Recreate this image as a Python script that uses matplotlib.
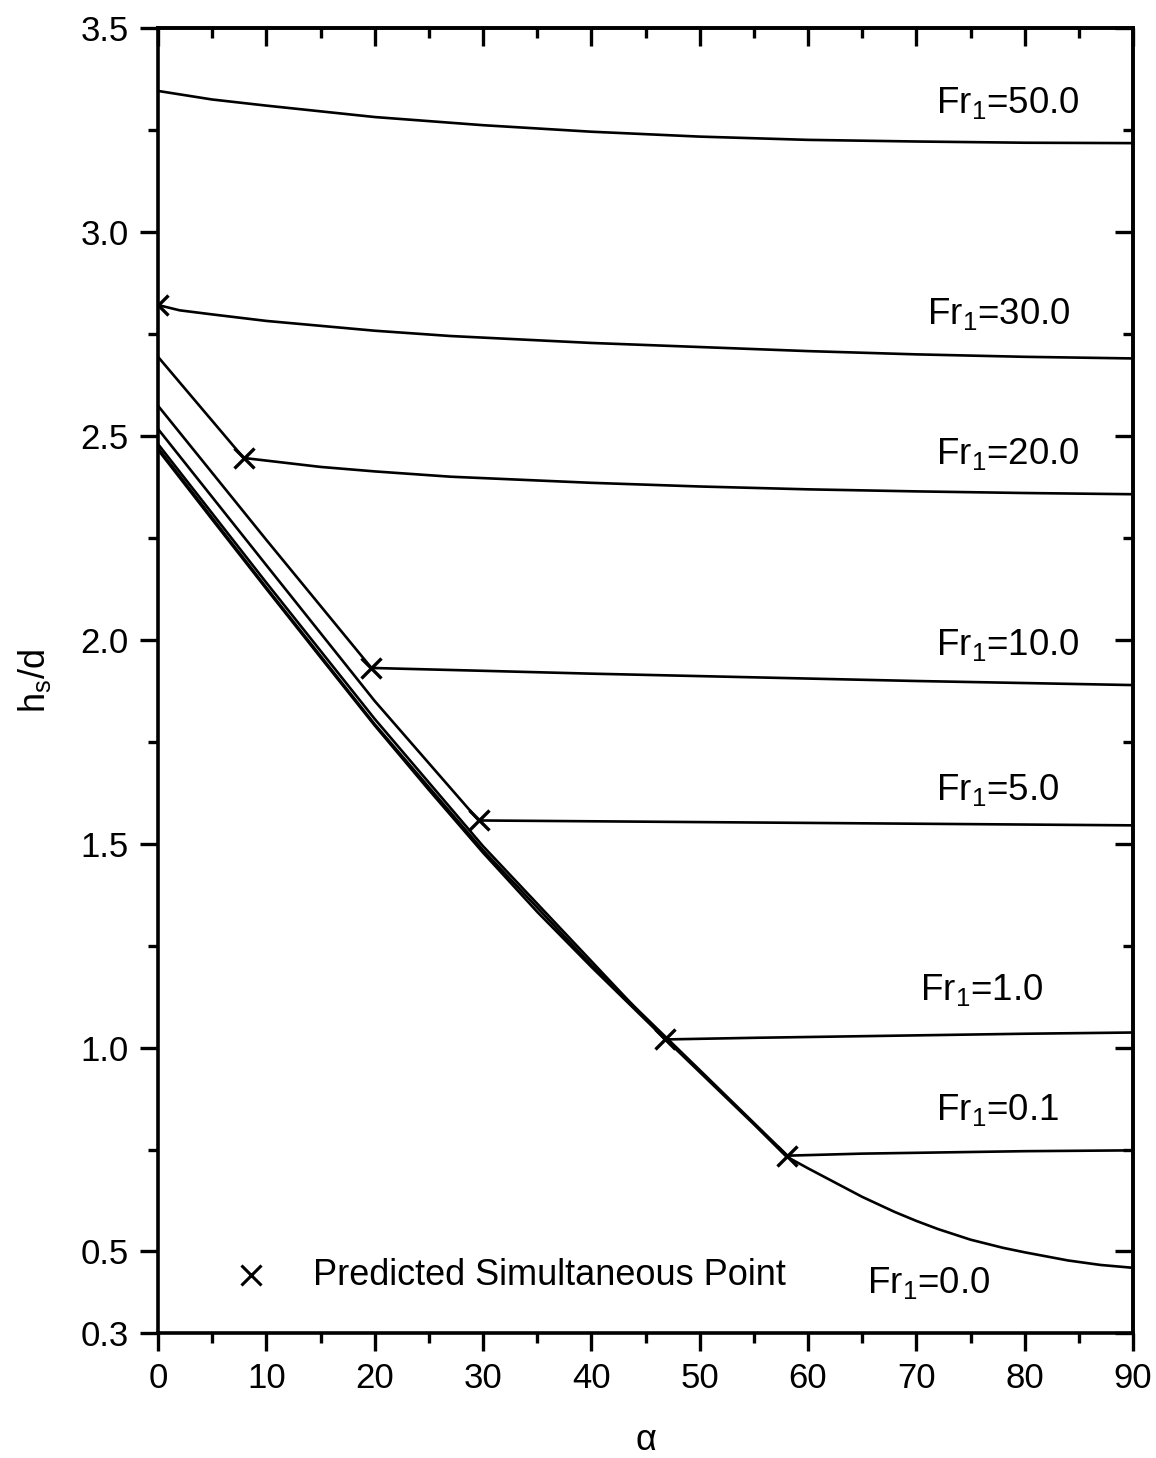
import matplotlib
matplotlib.use("Agg")
import matplotlib.pyplot as plt
from matplotlib.ticker import MultipleLocator, FixedLocator

plt.rcParams['font.family'] = ['Liberation Sans', 'DejaVu Sans']
plt.rcParams['mathtext.fontset'] = 'custom'
plt.rcParams['mathtext.rm'] = 'Liberation Sans'
plt.rcParams['mathtext.it'] = 'Liberation Sans:italic'

# Fr1 = 0.0 : single curve over the whole range
alpha_fr0 = [0, 5, 10, 15, 20, 25, 30, 35, 40, 45, 50, 55, 58, 60, 62, 65, 68, 70, 72, 75, 78, 80, 84, 87, 90]
h_fr0 = [2.466, 2.295, 2.125, 1.957, 1.790, 1.632, 1.478, 1.333, 1.198, 1.068, 0.940, 0.812, 0.733,
         0.704, 0.676, 0.634, 0.597, 0.575, 0.555, 0.529, 0.509, 0.498, 0.478, 0.467, 0.460]

# descending branch (alpha, h) and near-flat branch for each Froude number
desc_alpha = {
    "0.1": [0, 10, 20, 30, 40, 50, 58.1],
    "1.0": [0, 10, 20, 30, 40, 46.8],
    "5.0": [0, 10, 20, 29.6],
    "10.0": [0, 10, 19.7],
    "20.0": [0, 7.9],
}
desc_h = {
    "0.1": [2.470, 2.128, 1.793, 1.484, 1.203, 0.945, 0.735],
    "1.0": [2.480, 2.140, 1.806, 1.494, 1.212, 1.020],
    "5.0": [2.517, 2.183, 1.850, 1.557],
    "10.0": [2.574, 2.245, 1.931],
    "20.0": [2.694, 2.446],
}
flat_alpha = {
    "0.1": [58.1, 65, 70, 80, 90],
    "1.0": [46.8, 55, 60, 70, 80, 90],
    "5.0": [29.6, 40, 50, 60, 70, 80, 90],
    "10.0": [19.7, 30, 40, 50, 60, 70, 80, 90],
    "20.0": [7.9, 15, 20, 27, 40, 50, 60, 70, 80, 90],
    "30.0": [0, 2, 5, 10, 20, 27, 40, 50, 60, 70, 80, 90],
    "50.0": [0, 5, 10, 15, 20, 30, 40, 50, 60, 70, 80, 90],
}
flat_h = {
    "0.1": [0.735, 0.740, 0.742, 0.746, 0.748],
    "1.0": [1.020, 1.024, 1.026, 1.030, 1.034, 1.037],
    "5.0": [1.557, 1.555, 1.553, 1.551, 1.549, 1.547, 1.545],
    "10.0": [1.931, 1.924, 1.917, 1.911, 1.905, 1.899, 1.894, 1.889],
    "20.0": [2.446, 2.424, 2.413, 2.400, 2.385, 2.376, 2.369, 2.364, 2.360, 2.357],
    "30.0": [2.821, 2.808, 2.798, 2.782, 2.758, 2.745, 2.728, 2.718, 2.708, 2.700, 2.694, 2.690],
    "50.0": [3.346, 3.325, 3.310, 3.296, 3.282, 3.262, 3.246, 3.234, 3.226, 3.222, 3.219, 3.218],
}

# predicted simultaneous points
sim_alpha = [0, 7.9, 19.7, 29.6, 46.8, 58.1]
sim_h = [2.821, 2.446, 1.931, 1.557, 1.020, 0.735]

# label positions (alpha, h) for each curve
label_names = ["50.0", "30.0", "20.0", "10.0", "5.0", "1.0", "0.1", "0.0"]
label_alpha = [71.8, 71.0, 71.8, 71.8, 71.8, 70.3, 71.8, 65.4]
label_h = [3.316, 2.800, 2.456, 1.988, 1.632, 1.142, 0.846, 0.422]

fig = plt.figure(figsize=(11.56, 14.58), dpi=100)
ax = fig.add_axes([0.1367, 0.0857, 0.8434, 0.895])

lw = 1.9
ax.plot(alpha_fr0, h_fr0, color='black', lw=lw)
for key in desc_alpha:
    ax.plot(desc_alpha[key], desc_h[key], color='black', lw=lw)
for key in flat_alpha:
    ax.plot(flat_alpha[key], flat_h[key], color='black', lw=lw)

ax.plot(sim_alpha, sim_h, linestyle='none', marker='x', color='black',
        markersize=15, markeredgewidth=2.4)

for name, xa, yh in zip(label_names, label_alpha, label_h):
    ax.text(xa, yh, "Fr$_\\mathregular{1}$=" + name, fontsize=26.5, va='center', ha='left')

# legend entry drawn by hand
ax.plot([8.6], [0.442], linestyle='none', marker='x', color='black',
        markersize=15, markeredgewidth=2.2)
ax.text(14.3, 0.442, "Predicted Simultaneous Point", fontsize=26, va='center', ha='left')

ax.set_xlim(0, 90)
ax.set_ylim(0.3, 3.5)

ax.xaxis.set_major_locator(MultipleLocator(10))
ax.xaxis.set_minor_locator(MultipleLocator(5))
ax.yaxis.set_major_locator(FixedLocator([0.3, 0.5, 1.0, 1.5, 2.0, 2.5, 3.0, 3.5]))
ax.yaxis.set_minor_locator(FixedLocator([0.75, 1.25, 1.75, 2.25, 2.75, 3.25]))
ax.set_yticklabels(["0.3", "0.5", "1.0", "1.5", "2.0", "2.5", "3.0", "3.5"])

for s in ax.spines.values():
    s.set_linewidth(2.6)

ax.tick_params(axis='both', which='major', direction='out', length=13, width=2.4,
               labelsize=25, pad=8)
ax.tick_params(axis='both', which='minor', direction='out', length=7, width=2.4)
# mirrored ticks on top and right point inward
sec_x = ax.secondary_xaxis('top')
sec_x.xaxis.set_major_locator(MultipleLocator(10))
sec_x.xaxis.set_minor_locator(MultipleLocator(5))
sec_x.tick_params(which='major', direction='in', length=13, width=2.4, labeltop=False)
sec_x.tick_params(which='minor', direction='in', length=7, width=2.4)
sec_x.spines['top'].set_linewidth(2.6)
sec_y = ax.secondary_yaxis('right')
sec_y.yaxis.set_major_locator(FixedLocator([0.3, 0.5, 1.0, 1.5, 2.0, 2.5, 3.0, 3.5]))
sec_y.yaxis.set_minor_locator(FixedLocator([0.75, 1.25, 1.75, 2.25, 2.75, 3.25]))
sec_y.tick_params(which='major', direction='in', length=13, width=2.4, labelright=False)
sec_y.tick_params(which='minor', direction='in', length=7, width=2.4)
sec_y.spines['right'].set_linewidth(2.6)

ax.set_xlabel("α", fontsize=26, labelpad=20)
ax.set_ylabel("h$_\\mathregular{s}$/d", fontsize=26, labelpad=20)

fig.savefig("out.png", dpi=100)
